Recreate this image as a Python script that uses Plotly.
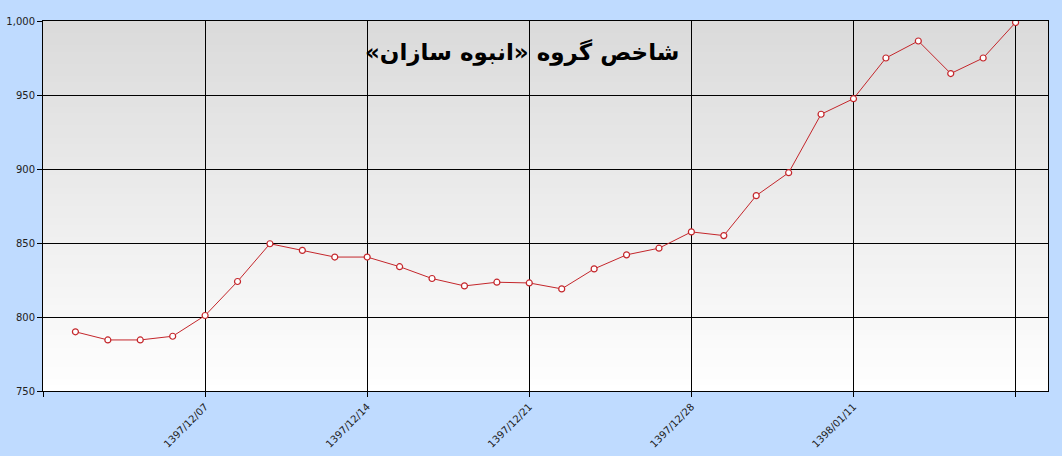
import plotly.graph_objects as go

# index values, one per trading day
values = [790, 784.5, 784.5, 787, 801, 824, 849.5, 845, 840.5, 840.5,
          834, 826, 821, 823.5, 823, 819, 832.5, 842, 846.5, 857.5,
          855, 882, 897.5, 937, 947.5, 975, 986.5, 964.5, 975, 999]
tick_labels = ["", "1397/12/07", "1397/12/14", "1397/12/21", "1397/12/28", "1398/01/11", ""]
chart_title = "شاخص گروه «انبوه سازان»"

x = list(range(len(values)))
tick_pos = list(range(-1, len(values), 5))

fig = go.Figure()
fig.add_trace(go.Scatter(
    x=x, y=values, mode="lines+markers",
    line=dict(color="#C4262B", width=1),
    marker=dict(symbol="circle", size=6, color="white",
                line=dict(color="#C4262B", width=1.2)),
    hoverinfo="y"
))

# vertical gray -> white gradient behind the grid
n = 60
shapes = []
for i in range(n):
    t = i / (n - 1)
    c = int(255 - (255 - 219) * t)
    shapes.append(dict(type="rect", xref="x domain", yref="y domain",
                       x0=0, x1=1, y0=i / n, y1=(i + 1) / n + 0.002,
                       fillcolor=f"rgb({c},{c},{c})", line=dict(width=0),
                       layer="below"))

fig.update_layout(
    width=1062, height=456,
    margin=dict(l=43, r=14, t=21, b=65),
    paper_bgcolor="#BFDBFF", plot_bgcolor="white",
    showlegend=False, shapes=shapes,
    font=dict(family="DejaVu Sans", size=10, color="#222222"),
    # trailing RLM keeps the closing guillemet in the RTL run
    annotations=[dict(text="<b>" + chart_title + "\u200f</b>", xref="paper", yref="paper",
                      x=0.477, y=0.958, showarrow=False,
                      font=dict(family="DejaVu Sans", size=23, color="black"))]
)
fig.update_xaxes(
    range=[-1, len(values)], tickmode="array", tickvals=tick_pos, ticktext=tick_labels,
    tickangle=-45, ticks="outside", ticklen=5, tickcolor="black",
    showgrid=True, gridcolor="black", gridwidth=1, automargin=False,
    showline=True, linecolor="black", linewidth=1, mirror=True, zeroline=False,
    tickfont=dict(size=10)
)
fig.update_yaxes(
    range=[750, 1000], dtick=50, tickformat=",",
    ticks="outside", ticklen=5, tickcolor="black", automargin=False,
    showgrid=True, gridcolor="black", gridwidth=1,
    showline=True, linecolor="black", linewidth=1, mirror=True, zeroline=False
)

# drop the page's default body margin so the chart sits at 0,0
fig.write_html("out.html", config={"displayModeBar": False},
               post_script="document.body.style.margin='0';"
                           "document.body.style.background='#BFDBFF';")
